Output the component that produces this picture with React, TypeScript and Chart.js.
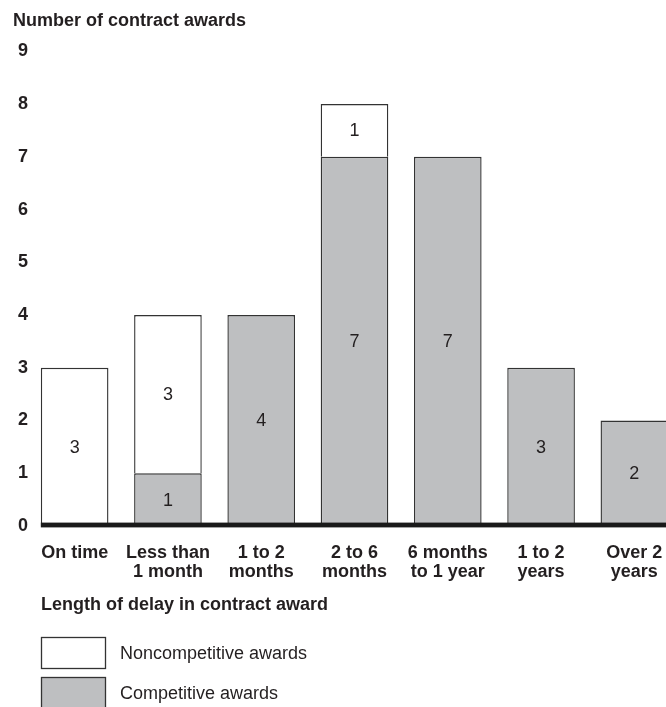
import React, { useEffect, useRef } from "react";
import { Chart, registerables } from "chart.js";

Chart.register(...registerables);

const categories: (string | string[])[] = [
  "On time",
  ["Less than", "1 month"],
  ["1 to 2", "months"],
  ["2 to 6", "months"],
  ["6 months", "to 1 year"],
  ["1 to 2", "years"],
  ["Over 2", "years"],
];
const competitive = [0, 1, 4, 7, 7, 3, 2];
const noncompetitive = [3, 3, 0, 1, 0, 0, 0];
const yMin = 0;
const yMax = 9;
const yStep = 1;
const chartTitle = "Number of contract awards";
const xAxisTitle = "Length of delay in contract award";
const seriesNames = ["Competitive awards", "Noncompetitive awards"];

const FONT = "'Liberation Sans', Arial, Helvetica, sans-serif";
const TEXT = "#231f20";
const GRAY = "#bebfc1";
const EDGE = "#333333";

const valueLabels = {
  id: "valueLabels",
  afterDatasetsDraw(chart: any) {
    const ctx = chart.ctx;
    ctx.save();
    ctx.font = `18px ${FONT}`;
    ctx.fillStyle = TEXT;
    ctx.textAlign = "center";
    ctx.textBaseline = "middle";
    chart.data.datasets.forEach((ds: any, di: number) => {
      const meta = chart.getDatasetMeta(di);
      meta.data.forEach((el: any, i: number) => {
        const v = ds.data[i];
        if (!v) return;
        ctx.fillText(String(v), el.x, (el.y + el.base) / 2 + 1);
      });
    });
    ctx.restore();
  },
};

const baseline = {
  id: "baseline",
  afterDatasetsDraw(chart: any) {
    const ctx = chart.ctx;
    const y0 = chart.scales.y.getPixelForValue(0);
    const first = chart.getDatasetMeta(0).data[0] as any;
    const left = first.x - first.width / 2;
    ctx.save();
    ctx.fillStyle = "#1a1a1a";
    ctx.fillRect(left, y0 - 3.4, chart.width - left, 4.8);
    ctx.restore();
  },
};

const annotations = {
  id: "annotations",
  afterDraw(chart: any) {
    const ctx = chart.ctx;
    ctx.save();
    ctx.fillStyle = TEXT;
    ctx.textAlign = "left";
    ctx.textBaseline = "middle";
    ctx.font = `bold 18px ${FONT}`;
    ctx.fillText(chartTitle, 13, 21);
    ctx.fillText(xAxisTitle, 41, 605);
    // legend (noncompetitive first, then competitive)
    const order = [1, 0];
    order.forEach((di, k) => {
      const ds = chart.data.datasets[di];
      const top = 637 + k * 40;
      ctx.fillStyle = ds.backgroundColor;
      ctx.fillRect(41, top, 65, 32);
      ctx.strokeStyle = EDGE;
      ctx.lineWidth = 1.3;
      ctx.strokeRect(41.5, top + 0.5, 64, 31);
      ctx.fillStyle = TEXT;
      ctx.font = `18px ${FONT}`;
      ctx.fillText(ds.label, 120, top + 17);
    });
    ctx.restore();
  },
};

export default function App() {
  const ref = useRef<HTMLCanvasElement | null>(null);
  useEffect(() => {
    if (!ref.current) return;
    const chart = new Chart(ref.current, {
      type: "bar",
      data: {
        labels: categories as any,
        datasets: [
          {
            label: seriesNames[0],
            data: competitive,
            backgroundColor: GRAY,
            borderColor: EDGE,
            borderWidth: 1.4,
            borderSkipped: false,
            barPercentage: 0.725,
            categoryPercentage: 1,
          },
          {
            label: seriesNames[1],
            data: noncompetitive,
            backgroundColor: "#ffffff",
            borderColor: EDGE,
            borderWidth: 1.4,
            borderSkipped: "start",
            barPercentage: 0.725,
            categoryPercentage: 1,
          },
        ],
      },
      options: {
        responsive: false,
        animation: false,
        layout: { padding: { top: 51.3, right: 0, bottom: 121, left: 0 } },
        plugins: {
          legend: { display: false },
          title: { display: false },
          tooltip: { enabled: false },
        },
        scales: {
          x: {
            stacked: true,
            grid: { display: false, drawTicks: false },
            border: { display: false },
            ticks: {
              color: TEXT,
              font: { family: FONT, size: 18, weight: "bold", lineHeight: 1.06 },
              padding: 17,
              maxRotation: 0,
              autoSkip: false,
            },
            afterFit(scale: any) {
              scale.height = 60;
            },
          },
          y: {
            stacked: true,
            min: yMin,
            max: yMax,
            grid: { display: false, drawTicks: false },
            border: { display: false },
            ticks: {
              stepSize: yStep,
              color: TEXT,
              font: { family: FONT, size: 18, weight: "bold" },
              padding: 0,
            },
            afterFit(scale: any) {
              scale.width = 28;
            },
          },
        },
      },
      plugins: [valueLabels, baseline, annotations],
    });
    return () => chart.destroy();
  }, []);
  return (
    <div
      style={{
        position: "fixed",
        left: 0,
        top: 0,
        width: 666,
        height: 707,
        overflow: "hidden",
        background: "#fff",
      }}
    >
      <canvas ref={ref} width={681} height={707} style={{ width: 681, height: 707, display: "block" }} />
    </div>
  );
}
